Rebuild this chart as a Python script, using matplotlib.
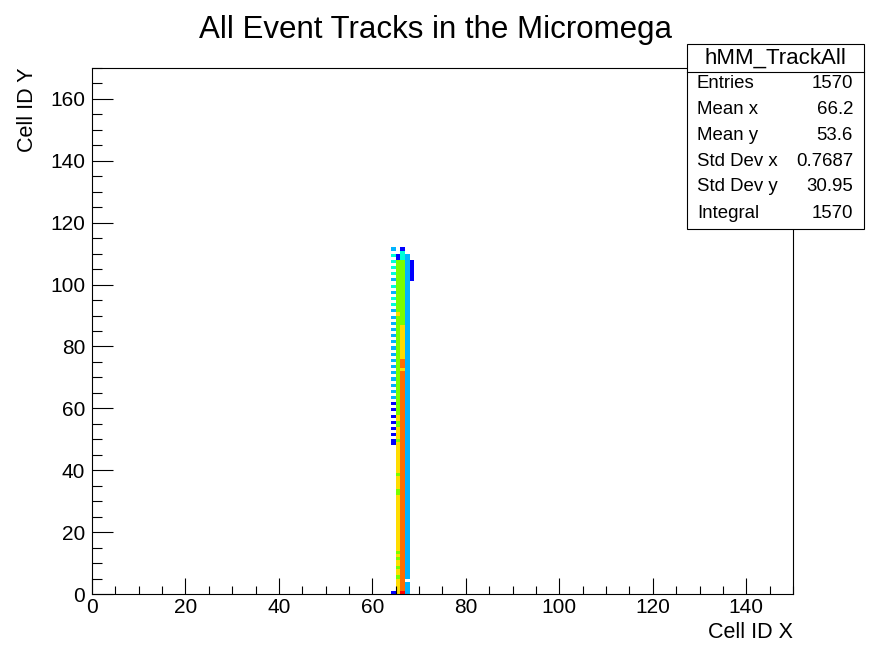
"""
hMM_TrackAll: all event tracks in the Micromega (2D cell map, COL style)
"""

#%% Imports
import numpy as np
import matplotlib.pyplot as plt
from matplotlib.colors import ListedColormap, BoundaryNorm
from matplotlib.patches import Rectangle
from matplotlib.ticker import MultipleLocator

plt.rcParams['font.family'] = ['Liberation Sans', 'DejaVu Sans']

#%% Data (bin contents, level 1 = lowest, 9 = highest)
n_x, n_y = 150, 170

# column 64: scattered single bins
col64_y = [0, 48, 49, 51, 53, 55, 57, 59, 61,
           63, 65, 67, 69, 71, 73, 75, 77, 79, 81, 83, 85, 87, 89,
           91, 93, 95, 97, 99, 101, 103, 105, 107, 109, 111]
col64_v = [1, 1, 1, 1, 1, 1, 1, 1, 1,
           2, 2, 2, 2, 2, 2, 2, 2, 2, 2, 2, 2, 2, 2,
           2, 3, 3, 2, 3, 2, 3, 3, 3, 3, 2]

# other columns as runs: (y_low, y_high, level)
col65_runs = [(0, 4, 6), (5, 5, 4), (6, 7, 6), (8, 8, 4), (9, 10, 6), (11, 11, 4),
              (12, 12, 6), (13, 13, 4), (14, 31, 6), (32, 33, 4), (34, 37, 6),
              (38, 38, 4), (39, 48, 6), (49, 49, 4), (50, 53, 6), (54, 55, 4),
              (56, 57, 6), (58, 89, 4), (90, 90, 6), (91, 107, 4), (108, 109, 1)]
col66_runs = [(0, 0, 9), (1, 71, 7), (72, 72, 6), (73, 75, 7), (76, 86, 6),
              (87, 107, 4), (108, 110, 3), (111, 111, 1)]
col67_runs = [(0, 3, 2), (5, 109, 2)]
col68_runs = [(101, 107, 1)]

level_colors = ['#0000ff', '#00b4ff', '#00ffd8', '#78ff00', '#c8ff00',
                '#ffdc00', '#ff6e00', '#ff3700', '#ff0000']

stat_names = ['Entries', 'Mean x', 'Mean y', 'Std Dev x', 'Std Dev y', 'Integral']
stat_values = ['1570', '66.2', '53.6', '0.7687', '30.95', '1570']

#%% Fill the histogram
hist = np.zeros((n_y, n_x))
for y, v in zip(col64_y, col64_v):
    hist[y, 64] = v
for col, runs in [(65, col65_runs), (66, col66_runs), (67, col67_runs), (68, col68_runs)]:
    for lo, hi, v in runs:
        hist[lo:hi + 1, col] = v
hist = np.ma.masked_equal(hist, 0)

cmap = ListedColormap(level_colors)
norm = BoundaryNorm(np.arange(0.5, 10.5, 1), cmap.N)

#%% Plot
W, H = 870, 657
fig = plt.figure(figsize=(W / 100, H / 100), dpi=100)
ax = fig.add_axes([92 / W, 1 - 594 / H, 701 / W, 526 / H])

ax.pcolormesh(np.arange(n_x + 1), np.arange(n_y + 1), hist,
              cmap=cmap, norm=norm, edgecolors='none', antialiased=False)
ax.set_xlim(0, 150)
ax.set_ylim(0, 170)

ax.xaxis.set_major_locator(MultipleLocator(20))
ax.xaxis.set_minor_locator(MultipleLocator(5))
ax.yaxis.set_major_locator(MultipleLocator(20))
ax.yaxis.set_minor_locator(MultipleLocator(5))
ax.tick_params(axis='both', which='both', direction='in', labelsize=15, width=0.8)
ax.tick_params(axis='x', which='major', length=11.5, pad=3)
ax.tick_params(axis='x', which='minor', length=5.5)
ax.tick_params(axis='y', which='major', length=15, pad=5)
ax.tick_params(axis='y', which='minor', length=7.5)
for s in ax.spines.values():
    s.set_linewidth(0.8)

fig.text(436 / W, 1 - 30 / H, 'All Event Tracks in the Micromega',
         ha='center', va='center', fontsize=22.5)
fig.text(793 / W, 1 - 632 / H, 'Cell ID X', ha='right', va='center', fontsize=15.5)
fig.text(28 / W, 1 - 68 / H, 'Cell ID Y', ha='center', va='top',
         rotation=90, fontsize=15.5)

#%% Stats box
bx0, bx1, by0, by1, hy = 687, 864, 44, 229, 72
fig.add_artist(Rectangle((bx0 / W, 1 - by1 / H), (bx1 - bx0) / W, (by1 - by0) / H,
                         transform=fig.transFigure, facecolor='white',
                         edgecolor='black', linewidth=0.8, zorder=5))
fig.add_artist(plt.Line2D([bx0 / W, bx1 / W], [1 - hy / H, 1 - hy / H],
                          transform=fig.transFigure, color='black',
                          linewidth=0.8, zorder=6))
fig.text((bx0 + bx1) / 2 / W, 1 - 58 / H, 'hMM_TrackAll', ha='center', va='center',
         fontsize=16, zorder=7)
row_y = [83, 110, 136, 161, 187, 213]
for name, val, ry in zip(stat_names, stat_values, row_y):
    fig.text(697 / W, 1 - ry / H, name, ha='left', va='center', fontsize=13.4, zorder=7)
    fig.text(853 / W, 1 - ry / H, val, ha='right', va='center', fontsize=13.4, zorder=7)

fig.savefig('out.png', dpi=100)
